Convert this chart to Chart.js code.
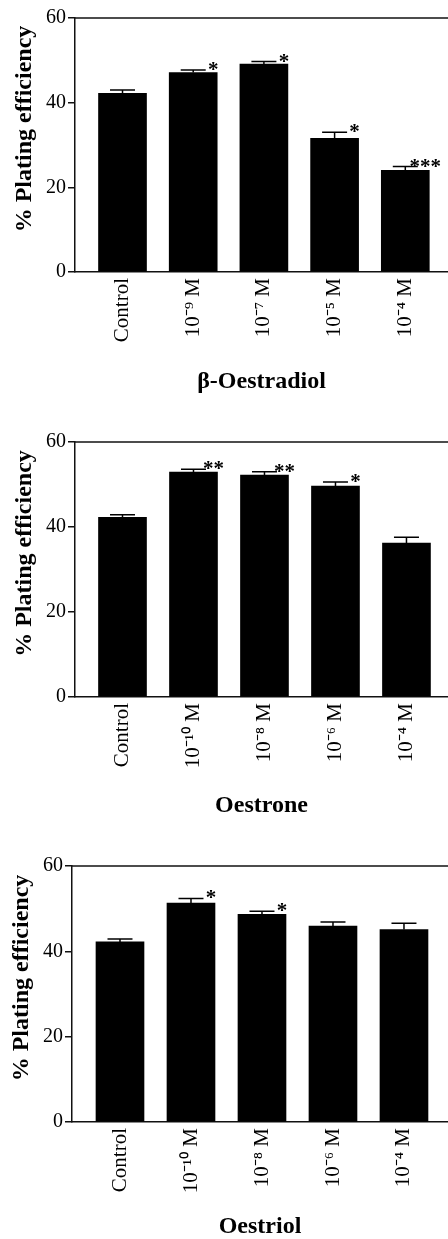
<!DOCTYPE html>
<html>
<head>
<meta charset="utf-8">
<script src="https://cdn.jsdelivr.net/npm/chart.js@4.4.1/dist/chart.umd.min.js"></script>
<style>
  html, body { margin: 0; padding: 0; background: #fff; }
  body { width: 448px; height: 1239px; position: relative; overflow: hidden; }
  canvas { position: absolute; left: 0; }
</style>
</head>
<body>
<canvas id="c1" width="448" height="400" style="top:0px"></canvas>
<canvas id="c2" width="448" height="400" style="top:420px"></canvas>
<canvas id="c3" width="448" height="409" style="top:830px"></canvas>
<script>
// values (% plating efficiency, mean + SEM)
var oestradiolLabels = ['Control', '10⁻⁹ M', '10⁻⁷ M', '10⁻⁵ M', '10⁻⁴ M'];
var oestradiolValues = [42.2, 47.1, 49.1, 31.6, 24.0];
var oestradiolErrors = [0.8, 0.6, 0.6, 1.4, 0.9];
var oestradiolSig = ['', '*', '*', '*', '***'];

var oestroneLabels = ['Control', '10⁻¹⁰ M', '10⁻⁸ M', '10⁻⁶ M', '10⁻⁴ M'];
var oestroneValues = [42.3, 52.9, 52.2, 49.6, 36.2];
var oestroneErrors = [0.6, 0.7, 0.8, 1.0, 1.4];
var oestroneSig = ['', '**', '**', '*', ''];

var oestriolLabels = ['Control', '10⁻¹⁰ M', '10⁻⁸ M', '10⁻⁶ M', '10⁻⁴ M'];
var oestriolValues = [42.2, 51.3, 48.7, 45.9, 45.1];
var oestriolErrors = [0.7, 1.1, 0.7, 1.0, 1.5];
var oestriolSig = ['', '*', '*', '', ''];

var yTickStep = 20;
var yMax = 60;

Chart.defaults.font.family = '"Liberation Serif", "Times New Roman", serif';
Chart.defaults.color = '#000';

// error bars, stars, top frame line and y title
var decorations = {
  id: 'decorations',
  afterDatasetsDraw: function(chart, args, opts) {
    var ctx = chart.ctx;
    var yScale = chart.scales.y;
    var area = chart.chartArea;
    var meta = chart.getDatasetMeta(0);
    var data = chart.data.datasets[0].data;

    ctx.save();
    ctx.strokeStyle = '#111';
    ctx.lineWidth = 1.5;
    ctx.beginPath();
    ctx.moveTo(area.left, area.top);
    ctx.lineTo(area.right, area.top);
    ctx.stroke();

    ctx.strokeStyle = '#000';
    meta.data.forEach(function(bar, i) {
      var v = data[i].y;
      var yBar = yScale.getPixelForValue(v);
      var yCap = yScale.getPixelForValue(v + opts.errors[i]);
      ctx.beginPath();
      ctx.moveTo(bar.x, yBar);
      ctx.lineTo(bar.x, yCap);
      ctx.moveTo(bar.x - 12.5, yCap);
      ctx.lineTo(bar.x + 12.5, yCap);
      ctx.stroke();

      var s = opts.sig[i];
      if (s) {
        ctx.font = 'bold 21px "Liberation Serif"';
        ctx.fillStyle = '#000';
        ctx.textAlign = 'center';
        ctx.textBaseline = 'alphabetic';
        ctx.fillText(s, bar.x + 20, yCap + 6);
      }
    });
    ctx.restore();

    ctx.save();
    ctx.translate(opts.yTitleX, (area.top + area.bottom) / 2 - 16);
    ctx.rotate(-Math.PI / 2);
    ctx.font = 'bold 24px "Liberation Serif"';
    ctx.fillStyle = '#000';
    ctx.textAlign = 'center';
    ctx.textBaseline = 'middle';
    ctx.fillText('% Plating efficiency', 0, 0);
    ctx.restore();
  }
};

function makeChart(id, labels, values, errors, sig, title, geo) {
  var canvas = document.getElementById(id);
  var points = values.map(function(v, i) { return { x: i, y: v }; });

  return new Chart(canvas.getContext('2d'), {
    type: 'bar',
    data: {
      datasets: [{
        data: points,
        backgroundColor: '#000',
        borderWidth: 0,
        barThickness: 48
      }]
    },
    plugins: [decorations],
    options: {
      responsive: false,
      animation: false,
      layout: { padding: { top: geo.top, right: 0, bottom: 0, left: 0 } },
      plugins: {
        legend: { display: false },
        tooltip: { enabled: false },
        decorations: { errors: errors, sig: sig, yTitleX: geo.yTitleX }
      },
      scales: {
        x: {
          type: 'linear',
          offset: false,
          min: geo.xMin,
          max: geo.xMax,
          afterBuildTicks: function(scale) {
            scale.ticks = labels.map(function(l, i) { return { value: i }; });
          },
          afterFit: function(scale) { scale.height = canvas.height - geo.bottom; },
          grid: { display: false, drawTicks: false, offset: false },
          border: { display: true, color: '#111', width: 1.5 },
          ticks: {
            autoSkip: false,
            maxRotation: 90,
            minRotation: 90,
            padding: 6,
            font: { size: 21 },
            callback: function(value) { return labels[value]; }
          },
          title: {
            display: true,
            text: title,
            font: { size: 24, weight: 'bold', lineHeight: 1 },
            padding: { top: 0, bottom: geo.titlePad }
          }
        },
        y: {
          min: 0,
          max: yMax,
          afterFit: function(scale) { scale.width = geo.left; },
          grid: { drawOnChartArea: false, color: '#111', lineWidth: 1.5, tickLength: 7 },
          border: { display: true, color: '#111', width: 1.5 },
          ticks: { stepSize: yTickStep, padding: 2, font: { size: 20 } }
        }
      }
    }
  });
}

makeChart('c1', oestradiolLabels, oestradiolValues, oestradiolErrors, oestradiolSig, 'β-Oestradiol',
  { top: 18, bottom: 272, left: 75, xMin: -0.672, xMax: 4.604, titlePad: 6, yTitleX: 25 });
makeChart('c2', oestroneLabels, oestroneValues, oestroneErrors, oestroneSig, 'Oestrone',
  { top: 22, bottom: 277, left: 75, xMin: -0.669, xMax: 4.585, titlePad: 2, yTitleX: 25 });
makeChart('c3', oestriolLabels, oestriolValues, oestriolErrors, oestriolSig, 'Oestriol',
  { top: 36, bottom: 292, left: 72, xMin: -0.676, xMax: 4.62, titlePad: 0, yTitleX: 22 });
</script>
</body>
</html>
